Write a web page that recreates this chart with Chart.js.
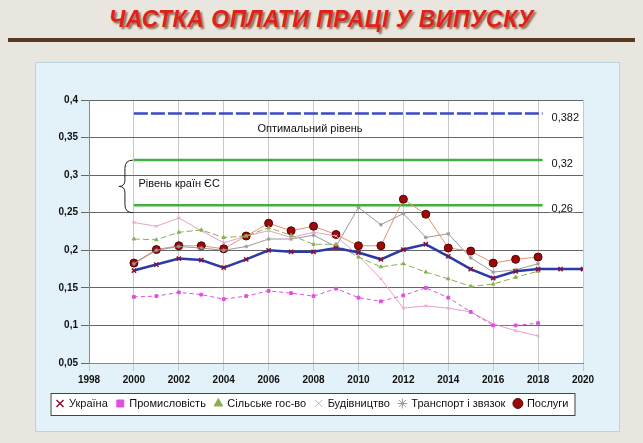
<!DOCTYPE html>
<html><head><meta charset="utf-8">
<script src="https://cdn.jsdelivr.net/npm/chart.js@4/dist/chart.umd.min.js"></script>
<style>
body{margin:0;width:643px;height:443px;background:#e9e6df;font-family:"Liberation Sans",Arial,sans-serif;overflow:hidden;position:relative}
#title{position:absolute;left:0;top:6px;width:643px;text-align:center;font:italic bold 23px "Liberation Sans",Arial;color:#e0201a;text-shadow:2px 2px 2px #8a6a50;letter-spacing:0.5px}
#rule{position:absolute;left:8px;top:38px;width:627px;height:4px;background:#5a3a22}
#panel{position:absolute;left:35px;top:62px;width:583px;height:368px;background:#e2f2f8;border:1px solid #b8d4de}
</style></head><body>
<div id="title">ЧАСТКА ОПЛАТИ ПРАЦІ У ВИПУСКУ</div>
<div id="rule"></div>
<div id="panel"><canvas id="c" width="583" height="368"></canvas></div>
<script>
var years = [2000,2001,2002,2003,2004,2005,2006,2007,2008,2009,2010,2011,2012,2013,2014,2015,2016,2017,2018,2019,2020];
var ukraine  = [0.173,0.181,0.189,0.187,0.177,0.188,0.200,0.198,0.198,0.203,0.197,0.188,0.201,0.208,0.192,0.175,0.163,0.172,0.175,0.175,0.175];
var industry = [0.138,0.139,0.144,0.141,0.135,0.139,0.146,0.143,0.139,0.149,0.137,0.132,0.140,0.150,0.137,0.118,0.100,0.100,0.103];
var agro     = [0.215,0.214,0.224,0.227,0.217,0.219,0.230,0.220,0.208,0.208,0.191,0.178,0.182,0.171,0.162,0.152,0.155,0.164,0.172];
var build    = [0.237,0.232,0.243,0.226,0.210,0.219,0.226,0.217,0.224,0.219,0.193,0.162,0.123,0.126,0.123,0.118,0.102,0.093,0.086];
var transport= [0.182,0.200,0.205,0.203,0.200,0.205,0.215,0.215,0.220,0.205,0.257,0.234,0.249,0.217,0.222,0.190,0.171,0.174,0.182];
var services = [0.183,0.201,0.206,0.206,0.202,0.219,0.236,0.226,0.232,0.221,0.206,0.206,0.268,0.248,0.203,0.199,0.183,0.188,0.191];
var levels = [0.382,0.32,0.26];
var levelLabels = ['0,382','0,32','0,26'];

function pts(arr){ return arr.map(function(v,i){ return {x:years[i],y:v}; }); }
function flat(v){ return [{x:2000,y:v},{x:2018.2,y:v}]; }

var refPlugin = {
  id:'refs',
  beforeDraw:function(c){
    var a=c.chartArea, ctx=c.ctx;
    ctx.save(); ctx.fillStyle='#fff'; ctx.fillRect(a.left,a.top,a.right-a.left,a.bottom-a.top);
    var hb=c.legend.legendHitBoxes, l=hb[0].left-6, r=hb[hb.length-1].left+hb[hb.length-1].width+6, t=hb[0].top-5;
    ctx.fillRect(l,t,r-l,22);
    ctx.strokeStyle='#444'; ctx.lineWidth=1; ctx.strokeRect(l+.5,t+.5,r-l,22);
    ctx.restore();
  },
  afterDraw:function(c){
    var ctx=c.ctx, x=c.scales.x, y=c.scales.y;
    ctx.save(); ctx.font='11px "Liberation Sans",Arial';
    levels.forEach(function(v,i){
      var px=x.getPixelForValue(2018.6), py=y.getPixelForValue(v)+4;
      var w=ctx.measureText(levelLabels[i]).width;
      ctx.fillStyle='#fff'; ctx.fillRect(px-2,py-11,w+4,14);
      ctx.fillStyle='#111'; ctx.fillText(levelLabels[i], px, py);
    });
    ctx.fillText('Оптимальний рівень', x.getPixelForValue(2005.5), y.getPixelForValue(0.362));
    ctx.fillText('Рівень країн ЄС', x.getPixelForValue(2000.2), y.getPixelForValue(0.288));
    var bx=x.getPixelForValue(1999.6), t=y.getPixelForValue(0.32), b=y.getPixelForValue(0.25), m=(t+b)/2;
    ctx.strokeStyle='#222'; ctx.lineWidth=1; ctx.beginPath();
    ctx.moveTo(bx+8,t); ctx.quadraticCurveTo(bx,t,bx,t+8); ctx.lineTo(bx,m-6); ctx.quadraticCurveTo(bx,m,bx-6,m);
    ctx.quadraticCurveTo(bx,m,bx,m+6); ctx.lineTo(bx,b-8); ctx.quadraticCurveTo(bx,b,bx+8,b); ctx.stroke();
    ctx.restore();
  }
};

function ser(label,data,color,opt){
  return Object.assign({label:label,data:pts(data),borderColor:color,backgroundColor:color,borderWidth:1,pointRadius:2,pointStyle:'circle',tension:0},opt||{});
}

new Chart(document.getElementById('c'),{
  type:'line',
  data:{datasets:[
    ser('Україна',ukraine,'#2a3aa8',{borderWidth:2.5,pointStyle:'crossRot',pointRadius:3,pointBorderColor:'#8a1030',backgroundColor:'#8a1030',pointBorderWidth:1.5}),
    ser('Промисловість',industry,'#e050e0',{borderDash:[4,3],pointStyle:'rect',pointRadius:2}),
    ser('Сільське гос-во',agro,'#8cb050',{borderDash:[6,3],pointStyle:'triangle'}),
    ser('Будівництво',build,'#e8a0c8',{pointStyle:'crossRot'}),
    ser('Транспорт і звязок',transport,'#9a9a9a',{pointStyle:'star'}),
    ser('Послуги',services,'#e89070',{pointBackgroundColor:'#9a0a0a',pointBorderColor:'#5a0000',backgroundColor:'#9a0a0a',pointRadius:4}),
    {label:'l1',data:flat(levels[0]),borderColor:'#3a4ac8',borderWidth:2.5,borderDash:[14,3],pointRadius:0},
    {label:'l2',data:flat(levels[1]),borderColor:'#40b040',borderWidth:2.5,pointRadius:0},
    {label:'l3',data:flat(levels[2]),borderColor:'#40b040',borderWidth:2.5,pointRadius:0}
  ]},
  plugins:[refPlugin],
  options:{
    responsive:false,animation:false,
    layout:{padding:{left:6,top:37,right:36,bottom:12}},
    plugins:{
      legend:{position:'bottom',labels:{filter:function(l){return l.text.length>2;},usePointStyle:true,boxWidth:7,boxHeight:7,padding:9,color:'#111',font:{size:11,family:'"Liberation Sans",Arial'}}},
      tooltip:{enabled:false}
    },
    scales:{
      x:{type:'linear',min:1998,max:2020,ticks:{stepSize:2,color:'#111',font:{size:10,weight:'bold'},maxRotation:0,callback:function(v){return String(v);}},grid:{color:'#c8c8c8'},border:{color:'#888'}},
      y:{min:0.05,max:0.4,ticks:{stepSize:0.05,color:'#111',font:{size:10,weight:'bold'},callback:function(v){return String(Math.round(v*100)/100).replace('.',',');}},grid:{color:'#666'},border:{color:'#888'},afterFit:function(s){s.width=47;}}
    }
  }
});
</script></body></html>
